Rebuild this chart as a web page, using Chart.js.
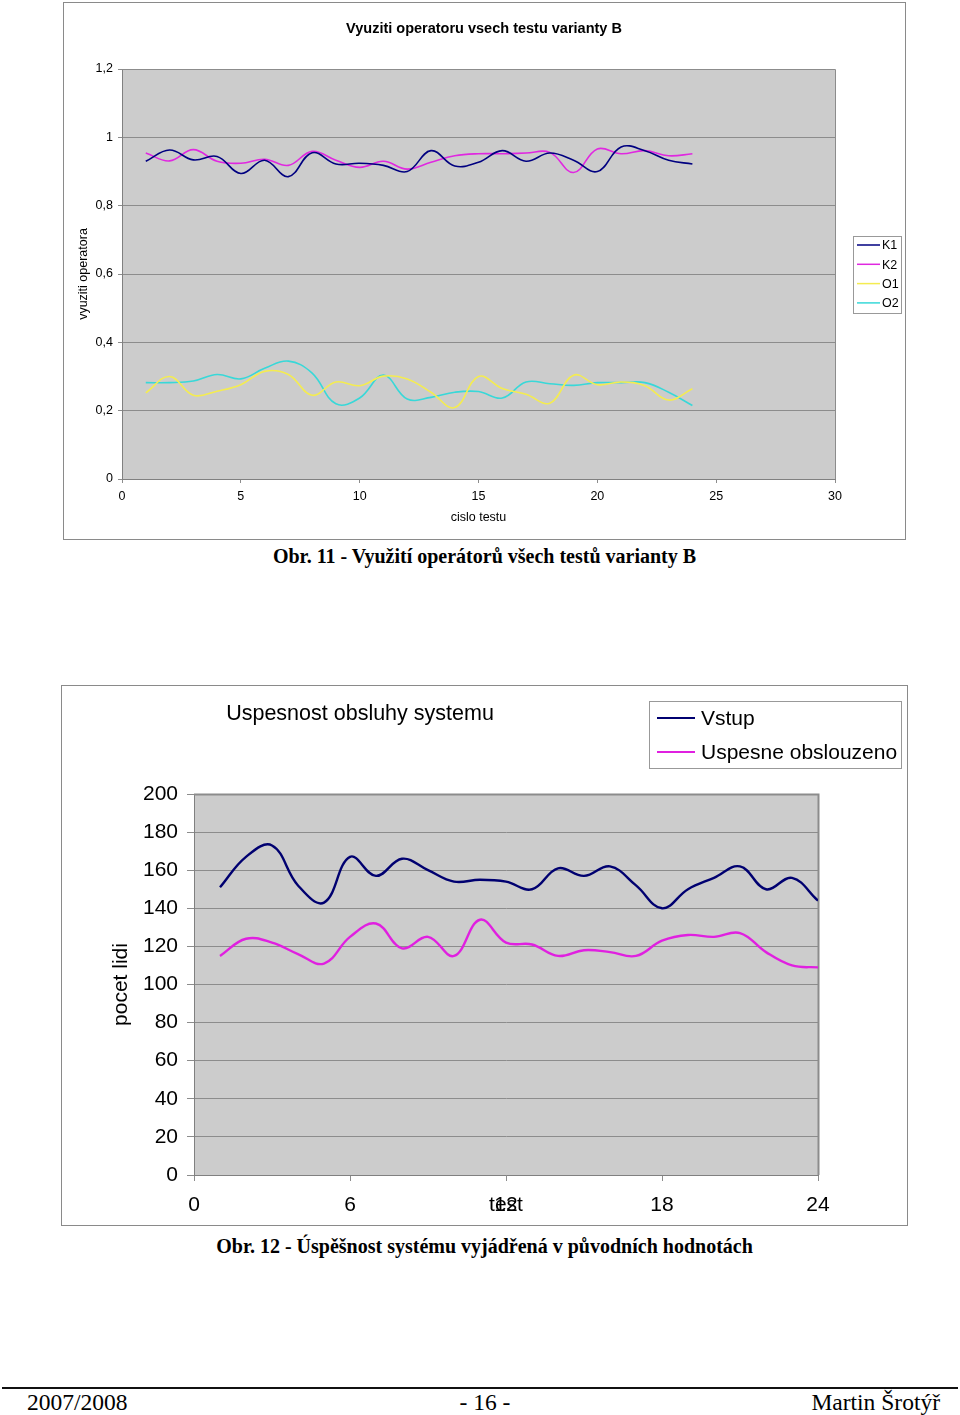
<!DOCTYPE html>
<html><head><meta charset="utf-8">
<script src="https://cdn.jsdelivr.net/npm/chart.js@4/dist/chart.umd.min.js"></script>
<style>
body{margin:0;width:960px;height:1415px;background:#fff;position:relative;overflow:hidden;}
canvas{position:absolute;}
#c1{left:63px;top:2px;}
#c2{left:61px;top:685px;}
.cap{position:absolute;left:0;width:969px;text-align:center;font:bold 20px "Liberation Serif";line-height:24px;color:#000;}
.foot{position:absolute;top:1389px;font:23.5px "Liberation Serif";line-height:26px;color:#000;}
#rule{position:absolute;left:2px;top:1387px;width:956px;height:2px;background:#111;}
</style></head>
<body>
<canvas id="c1" width="843" height="538"></canvas>
<div class="cap" style="top:544px">Obr. 11 - Využití operátorů všech testů varianty B</div>
<canvas id="c2" width="847" height="541"></canvas>
<div class="cap" style="top:1234px">Obr. 12 - Úspěšnost systému vyjádřená v původních hodnotách</div>
<div id="rule"></div>
<div class="foot" style="left:27px">2007/2008</div>
<div class="foot" style="left:0;width:970px;text-align:center">- 16 -</div>
<div class="foot" style="right:20px">Martin Šrotýř</div>
<script>
// ---- Chart 1 data ----
const chart1Title = "Vyuziti operatoru vsech testu varianty B";
const chart1XTitle = "cislo testu";
const chart1YTitle = "vyuziti operatora";
const testNumbers = [1,2,3,4,5,6,7,8,9,10,11,12,13,14,15,16,17,18,19,20,21,22,23,24];
const seriesNames1 = ["K1","K2","O1","O2"];
const K1 = [0.930,0.963,0.934,0.944,0.894,0.933,0.885,0.955,0.922,0.924,0.918,0.900,0.961,0.916,0.927,0.961,0.930,0.954,0.933,0.900,0.972,0.961,0.933,0.922];
const K2 = [0.954,0.931,0.964,0.930,0.924,0.936,0.918,0.959,0.933,0.912,0.930,0.907,0.927,0.946,0.952,0.952,0.954,0.956,0.897,0.966,0.952,0.961,0.946,0.952];
const O1 = [0.252,0.300,0.245,0.257,0.276,0.315,0.306,0.245,0.284,0.273,0.301,0.293,0.254,0.209,0.300,0.265,0.248,0.222,0.304,0.276,0.284,0.273,0.231,0.264];
const O2 = [0.282,0.282,0.287,0.306,0.293,0.324,0.345,0.310,0.220,0.237,0.304,0.234,0.239,0.254,0.256,0.237,0.284,0.279,0.274,0.282,0.282,0.282,0.254,0.215];

// ---- Chart 2 data ----
const chart2Title = "Uspesnost obsluhy systemu";
const chart2XTitle = "test";
const chart2YTitle = "pocet lidi";
const seriesNames2 = ["Vstup","Uspesne obslouzeno"];
const vstup = [151,167,173,152,143,167,157,166,160,154,155,154,150,161,157,162,152,140,150,156,162,150,156,144];
const uspesne = [115,124,122,116,111,125,132,119,125,115,134,122,121,115,118,117,115,123,126,125,127,117,110,109];

const SANS = '"Liberation Sans", Arial, sans-serif';
const toXY = (arr) => arr.map((v,i)=>({x:testNumbers[i], y:v}));

const decor = {
  id:'decor',
  beforeDraw(chart, args, o){
    const {ctx, chartArea:a} = chart;
    ctx.save();
    ctx.fillStyle='#fff'; ctx.fillRect(0,0,chart.width,chart.height);
    ctx.strokeStyle=o.frame; ctx.lineWidth=1;
    ctx.strokeRect(0.5,0.5,chart.width-1,chart.height-1);
    ctx.fillStyle=o.plotBg;
    ctx.fillRect(a.left,a.top,a.right-a.left,a.bottom-a.top);
    ctx.restore();
  },
  beforeDatasetsDraw(chart, args, o){
    const {ctx, chartArea:a} = chart;
    ctx.save();
    ctx.strokeStyle=o.plotBorder; ctx.lineWidth=o.plotBorderWidth||1;
    ctx.beginPath();
    ctx.moveTo(a.left, a.top+0.5); ctx.lineTo(a.right+0.5, a.top+0.5); ctx.lineTo(a.right+0.5, a.bottom);
    ctx.stroke();
    ctx.restore();
  },
  afterDraw(chart, args, o){
    const ctx = chart.ctx;
    ctx.save();
    ctx.fillStyle='#000'; ctx.font=o.title.font; ctx.textAlign='center'; ctx.textBaseline='middle';
    ctx.fillText(o.title.text, o.title.x, o.title.y);
    const L = o.legend;
    ctx.fillStyle='#fff'; ctx.fillRect(L.x,L.y,L.w,L.h);
    ctx.strokeStyle='#999'; ctx.lineWidth=1; ctx.strokeRect(L.x+0.5,L.y+0.5,L.w,L.h);
    ctx.font=L.font; ctx.textAlign='left'; ctx.textBaseline='middle';
    chart.data.datasets.forEach((ds,i)=>{
      const y = L.firstY + i*L.step;
      ctx.strokeStyle=ds.borderColor; ctx.lineWidth=L.lineWidth;
      ctx.beginPath(); ctx.moveTo(L.x0, y); ctx.lineTo(L.x1, y); ctx.stroke();
      ctx.fillStyle='#000'; ctx.fillText(ds.label, L.textX, y+1);
    });
    ctx.restore();
  }
};

// ---- Chart 1 ----
const colors1 = ['#000080','#e028e0','#f4ec50','#38d8d8'];
new Chart(document.getElementById('c1'), {
  type:'line',
  data:{ datasets:[K1,K2,O1,O2].map((arr,i)=>({
    label:seriesNames1[i], data:toXY(arr), borderColor:colors1[i], backgroundColor:colors1[i],
    borderWidth:1.6, pointRadius:0, tension:0.4, fill:false
  }))},
  options:{
    responsive:false, animation:false, events:[],
    layout:{padding:{left:0,top:67,right:71,bottom:0}},
    plugins:{ legend:{display:false}, tooltip:{enabled:false},
      decor:{ frame:'#8a8a8a', plotBg:'#cccccc', plotBorder:'#8c8c8c',
        title:{text:chart1Title, x:421, y:26.5, font:'bold 14.5px '+SANS},
        legend:{x:790,y:234,w:48,h:77,firstY:243,step:19.3,x0:794,x1:817,textX:819,font:'12.5px '+SANS,lineWidth:1.5}
      }
    },
    scales:{
      x:{ type:'linear', min:0, max:30,
        ticks:{stepSize:5, color:'#000', font:{family:SANS,size:12.5}, padding:6, maxRotation:0},
        grid:{drawOnChartArea:false, drawTicks:true, tickLength:4, color:'#8c8c8c'},
        border:{color:'#808080'},
        title:{display:true, text:chart1XTitle, color:'#000', font:{family:SANS,size:12.5}, padding:{top:15,bottom:15}},
        afterFit:(s)=>{s.height=61;}
      },
      y:{ min:0, max:1.2,
        ticks:{stepSize:0.2, color:'#000', font:{family:SANS,size:12.5}, padding:5,
          callback:(v)=>String(Math.round(v*10)/10).replace('.',',')},
        grid:{color:'#8c8c8c', tickLength:4},
        border:{color:'#808080'},
        title:{display:true, text:chart1YTitle, color:'#000', font:{family:SANS,size:12.5}, padding:{top:13,bottom:13}},
        afterFit:(s)=>{s.width=59;}
      }
    }
  },
  plugins:[decor]
});

// ---- Chart 2 ----
const colors2 = ['#000070','#e020e0'];
new Chart(document.getElementById('c2'), {
  type:'line',
  data:{ datasets:[vstup,uspesne].map((arr,i)=>({
    label:seriesNames2[i], data:toXY(arr), borderColor:colors2[i], backgroundColor:colors2[i],
    borderWidth:2.4, pointRadius:0, tension:0.4, fill:false
  }))},
  options:{
    responsive:false, animation:false, events:[],
    layout:{padding:{left:0,top:109,right:90,bottom:0}},
    plugins:{ legend:{display:false}, tooltip:{enabled:false},
      decor:{ frame:'#8a8a8a', plotBg:'#cccccc', plotBorder:'#8c8c8c', plotBorderWidth:2,
        title:{text:chart2Title, x:299, y:29, font:'21.5px '+SANS},
        legend:{x:588,y:16,w:252,h:67,firstY:33,step:34,x0:596,x1:634,textX:640,font:'21px '+SANS,lineWidth:2}
      }
    },
    scales:{
      x:{ type:'linear', min:0, max:24,
        ticks:{stepSize:6, color:'#000', font:{family:SANS,size:21}, padding:12, maxRotation:0},
        grid:{drawOnChartArea:false, drawTicks:true, tickLength:6, color:'#8c8c8c'},
        border:{color:'#808080'},
        title:{display:true, text:chart2XTitle, color:'#000', font:{family:SANS,size:21}, padding:{top:8,bottom:8}},
        afterFit:(s)=>{s.height=51;}
      },
      y:{ min:0, max:200,
        ticks:{stepSize:20, color:'#000', font:{family:SANS,size:21}, padding:9},
        grid:{color:'#8c8c8c', tickLength:7},
        border:{color:'#808080'},
        title:{display:true, text:chart2YTitle, color:'#000', font:{family:SANS,size:21}, padding:{top:48,bottom:48}},
        afterFit:(s)=>{s.width=133;}
      }
    }
  },
  plugins:[decor]
});
</script>
</body></html>
